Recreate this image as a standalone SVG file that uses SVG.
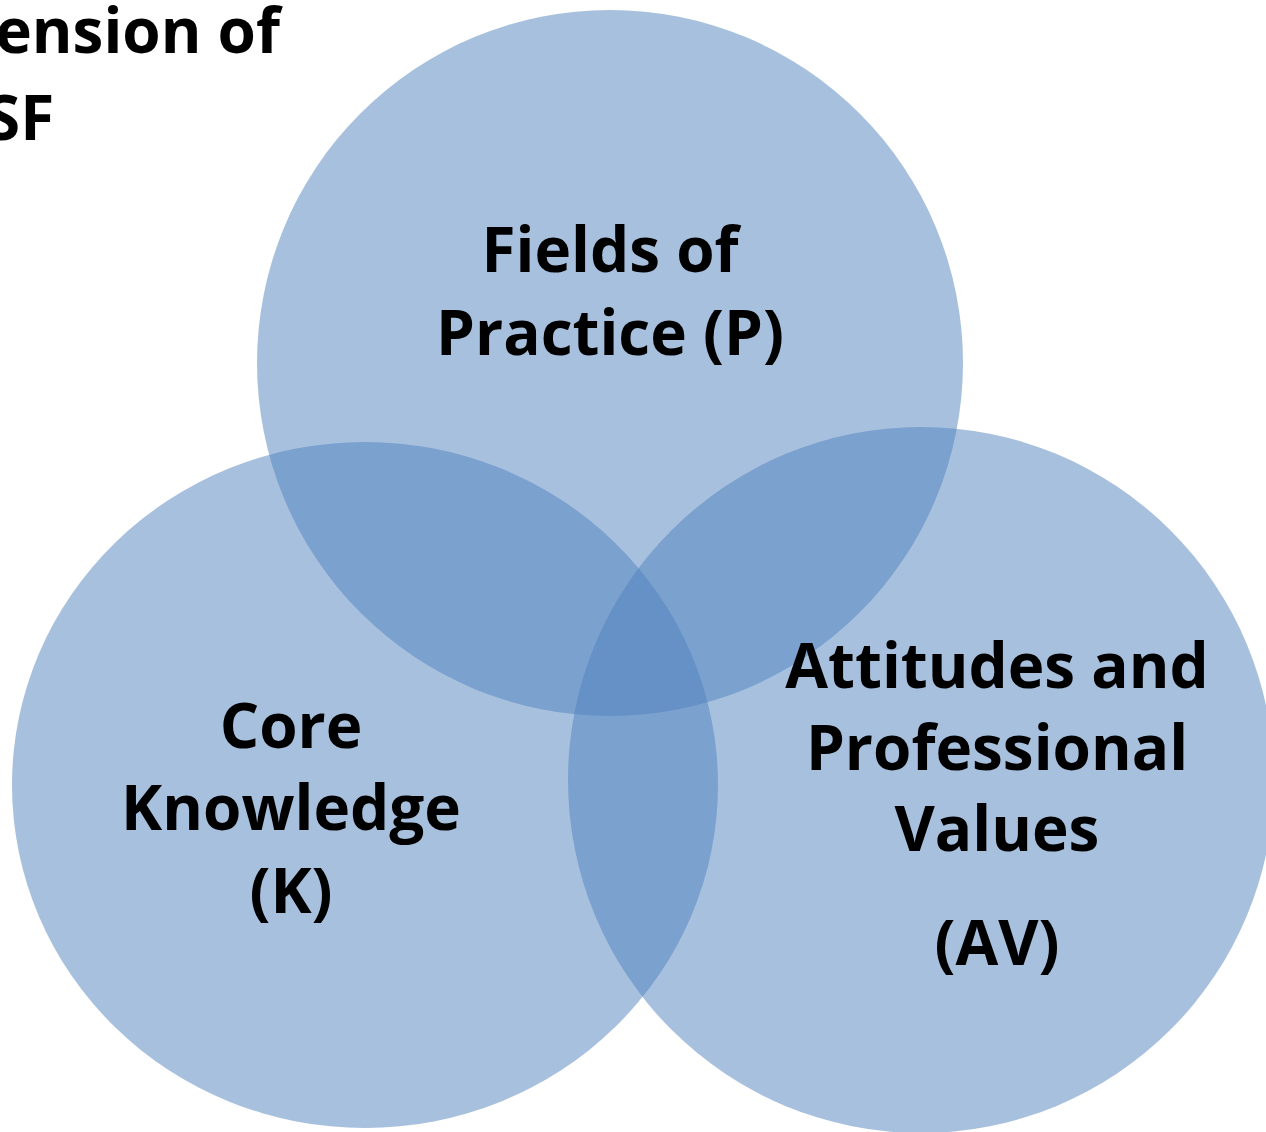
<svg xmlns="http://www.w3.org/2000/svg" width="1266" height="1132" viewBox="0 0 1266 1132">
<style>
.c{fill:#4F81BD;fill-opacity:0.5}
text{font-family:"Open Sans","Liberation Sans",sans-serif;font-weight:bold;font-size:62px;fill:#000;text-anchor:middle}
</style>
<rect width="1266" height="1132" fill="#fff"/>
<g id="title">
<text x="280" y="53" style="text-anchor:end">ension of</text>
<text x="-14" y="140" style="text-anchor:start">SF</text>
</g>
<g id="node-p"><circle class="c" cx="610" cy="363" r="353"/></g>
<g id="node-k"><ellipse class="c" cx="365" cy="785" rx="353" ry="343"/></g>
<g id="node-av"><circle class="c" cx="921" cy="780" r="353"/></g>
<g id="labels">
<text x="610" y="272">Fields of</text>
<text x="610" y="355">Practice (P)</text>
<text x="291" y="748">Core</text>
<text x="291" y="830">Knowledge</text>
<text x="291" y="913">(K)</text>
<text x="997" y="688">Attitudes and</text>
<text x="997" y="770">Professional</text>
<text x="997" y="851">Values</text>
<text x="997" y="965">(AV)</text>
</g>
<g id="connectors"/>
</svg>
